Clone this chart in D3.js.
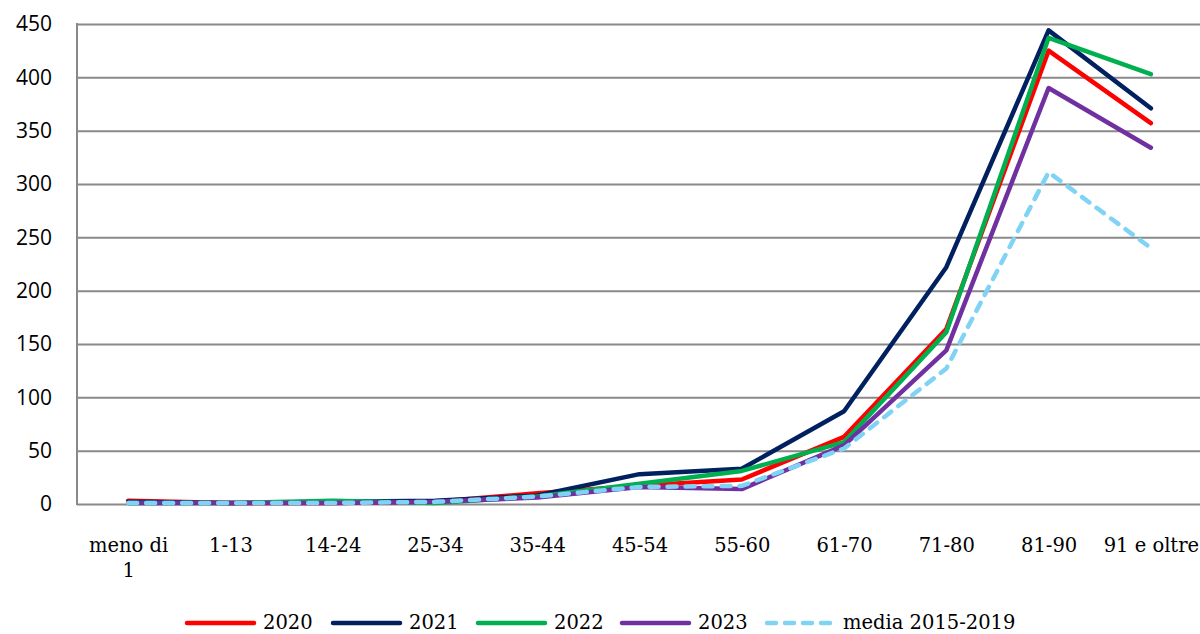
<!DOCTYPE html>
<html>
<head>
<meta charset="utf-8">
<script src="https://cdn.jsdelivr.net/npm/d3@7"></script>
<style>
  body { margin: 0; background: #ffffff; }
  svg { display: block; }
</style>
</head>
<body>
<svg id="chart" width="1200" height="634"></svg>
<script>
// Age groups (a "\n" marks a line break in the tick label)
const ageGroups = ["meno di\n1", "1-13", "14-24", "25-34", "35-44", "45-54", "55-60", "61-70", "71-80", "81-90", "91 e oltre"];

// Values per age group
const values2020  = [3, 1, 1, 2, 10, 17, 23, 63, 164, 425, 357];
const values2021  = [2, 1, 2, 3, 8, 28, 33, 87, 222, 444, 371];
const values2022  = [1, 1, 3, 1, 7, 19, 31, 58, 161, 437, 403];
const values2023  = [1, 1, 1, 2, 6, 16, 14, 55, 144, 390, 334];
const valuesMedia = [1, 1, 1, 2, 7, 16, 17, 52, 127, 311, 240];

const yTicks = [0, 50, 100, 150, 200, 250, 300, 350, 400, 450];

const series = [
  { name: "2020", values: values2020, color: "#ff0000", dashed: false },
  { name: "2021", values: values2021, color: "#002060", dashed: false },
  { name: "2022", values: values2022, color: "#00b050", dashed: false },
  { name: "2023", values: values2023, color: "#7030a0", dashed: false },
  { name: "media 2015-2019", values: valuesMedia, color: "#80d3f4", dashed: true }
];

const svg = d3.select("#chart");
const plot = { left: 77, right: 1202, top: 24, bottom: 504 };

const x = d3.scalePoint()
  .domain(ageGroups)
  .range([plot.left, plot.right])
  .padding(0.5);

const y = d3.scaleLinear()
  .domain([0, 450])
  .range([plot.bottom, plot.top]);

const gridColor = "#898989";

// Horizontal gridlines
const grid = svg.append("g")
  .attr("transform", `translate(${plot.left},0)`)
  .call(d3.axisLeft(y).tickValues(yTicks).tickSize(-(plot.right - plot.left)).tickFormat(""));
grid.select(".domain").remove();
grid.selectAll(".tick line").attr("stroke", gridColor).attr("stroke-width", 2);

// Vertical axis line
svg.append("line")
  .attr("x1", plot.left).attr("x2", plot.left)
  .attr("y1", plot.top - 1).attr("y2", plot.bottom + 1)
  .attr("stroke", gridColor).attr("stroke-width", 2);

// Y tick labels
const yAxis = svg.append("g")
  .attr("transform", `translate(${plot.left},0)`)
  .call(d3.axisLeft(y).tickValues(yTicks).tickSize(0).tickPadding(25));
yAxis.select(".domain").remove();
yAxis.selectAll("text")
  .attr("font-family", "'Open Sans', sans-serif")
  .attr("font-size", 21)
  .attr("fill", "#000");

// X tick labels
const xAxis = svg.append("g")
  .attr("transform", `translate(0,${plot.bottom})`)
  .call(d3.axisBottom(x).tickSize(0).tickFormat(""));
xAxis.select(".domain").remove();
xAxis.selectAll(".tick").each(function(d) {
  const lines = d.split("\n");
  const t = d3.select(this).append("text")
    .attr("text-anchor", "middle")
    .attr("font-family", "'DejaVu Serif', serif")
    .attr("font-size", 19.5)
    .attr("fill", "#000");
  lines.forEach((ln, i) => {
    t.append("tspan").attr("x", 0).attr("y", 48 + i * 25).text(ln);
  });
});

// Lines
const line = d3.line()
  .x((v, i) => x(ageGroups[i]))
  .y(v => y(v));

svg.append("g").selectAll("path")
  .data(series)
  .join("path")
  .attr("d", s => line(s.values))
  .attr("fill", "none")
  .attr("stroke", s => s.color)
  .attr("stroke-width", 4.5)
  .attr("stroke-linejoin", "round")
  .attr("stroke-linecap", "round")
  .attr("stroke-dasharray", s => s.dashed ? "9,9" : null);

// Legend
const legendX = [187, 333, 478, 622, 767];
const legend = svg.append("g");
series.forEach((s, i) => {
  const lx = legendX[i];
  legend.append("line")
    .attr("x1", lx).attr("x2", lx + 67)
    .attr("y1", 623).attr("y2", 623)
    .attr("stroke", s.color)
    .attr("stroke-width", 4.5)
    .attr("stroke-linecap", "round")
    .attr("stroke-dasharray", s.dashed ? "9,9" : null);
  legend.append("text")
    .attr("x", lx + 76)
    .attr("y", 629)
    .attr("font-family", "'DejaVu Serif', serif")
    .attr("font-size", 19.5)
    .attr("fill", "#000")
    .text(s.name);
});
</script>
</body>
</html>
